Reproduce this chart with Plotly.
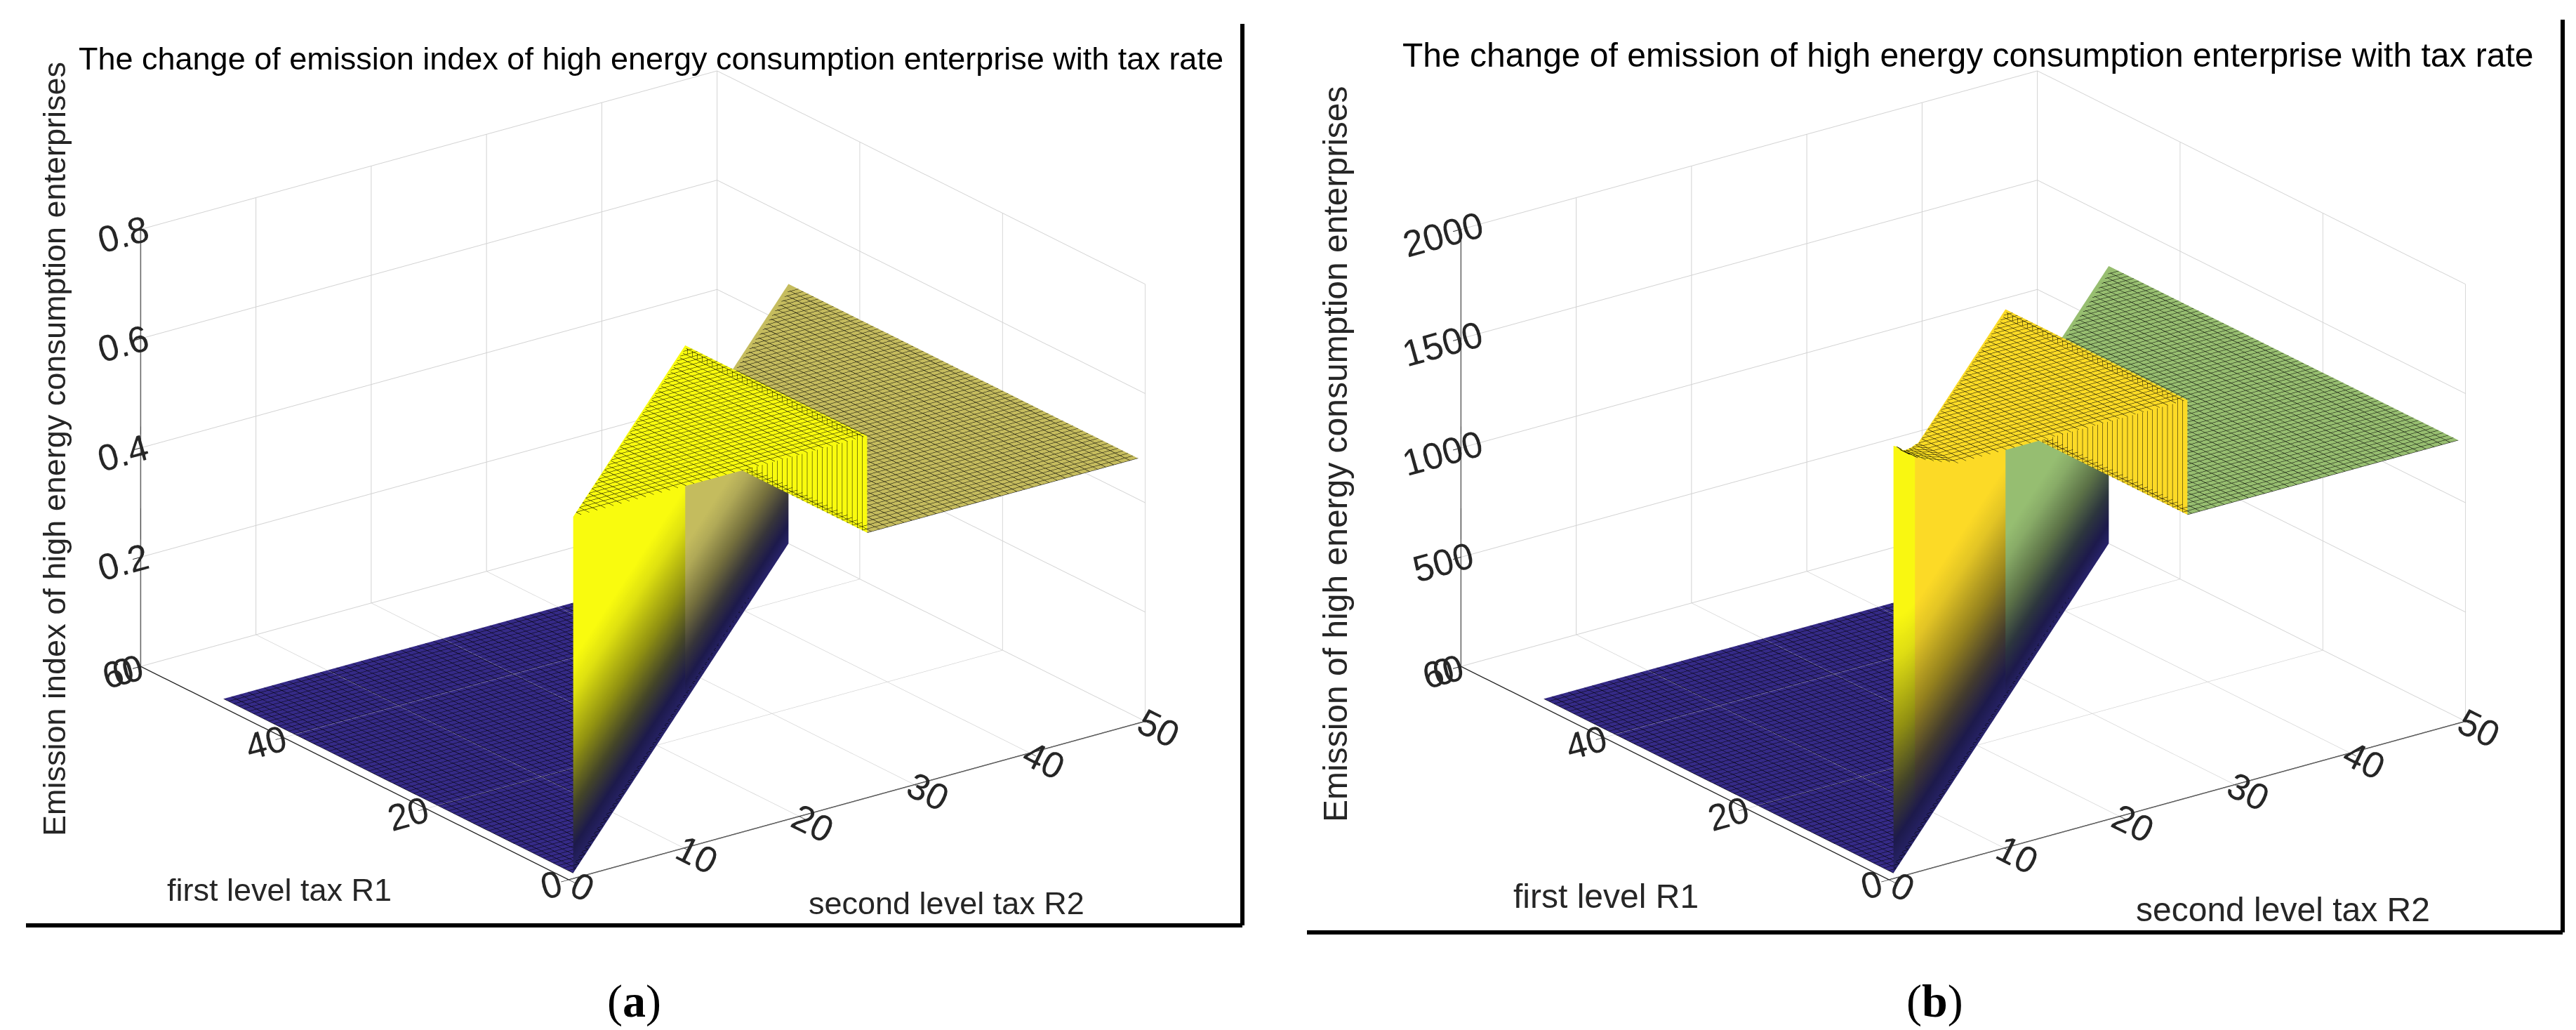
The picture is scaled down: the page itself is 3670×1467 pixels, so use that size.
import numpy as np
import plotly.graph_objects as go

W, H = 3670, 1467

# ---------------- data ----------------
step = 0.7                                            # mesh spacing of both tax axes
r_start, r_end = 1.0, 50.0                            # tax range covered by the surface
split_r2 = 26.5                                       # R2 where the ridge drops to the plateau

# panel (a): emission index levels
a_floor = 0.0        # region R1 > R2
a_ridge = 0.652      # region R1 <= R2 <= split
a_plateau = 0.475    # region R2 > split

# panel (b): emission levels
b_floor = 0.0
b_ridge = 1795
b_plateau = 1270
b_front_r2 = [1.0, 1.7, 2.4, 3.1, 3.8, 4.5, 5.2, 5.9]          # R2 of the raised front strip
b_front_z = [1955, 1930, 1895, 1870, 1850, 1835, 1820, 1810]  # its emission values

a_z_ticks = [0, 0.2, 0.4, 0.6, 0.8]
a_z_text = ["0", "0.2", "0.4", "0.6", "0.8"]
b_z_ticks = [0, 500, 1000, 1500, 2000]
b_z_text = ["0", "500", "1000", "1500", "2000"]
r1_ticks = [0, 20, 40, 60]
r2_ticks = [0, 10, 20, 30, 40, 50]

title_a = "The change of emission index of high energy consumption enterprise with tax rate"
title_b = "The change of emission of high energy consumption enterprise with tax rate"
ztitle_a = "Emission index of high energy consumption enterprises"
ztitle_b = "Emission of high energy consumption enterprises"

# ---------------- colours ----------------
parula_hex = ["#352a87", "#0f5cdd", "#1481d6", "#06a4ca", "#2eb7a4",
              "#87bf77", "#d1bb59", "#fec832", "#f9fb0e"]
parula = [[i / (len(parula_hex) - 1), c] for i, c in enumerate(parula_hex)]


def h2rgb(h):
    h = h.lstrip("#")
    return np.array([int(h[i:i + 2], 16) for i in (0, 2, 4)], dtype=float)


def rgb2h(c):
    c = np.clip(np.round(c), 0, 255).astype(int)
    return "#%02x%02x%02x" % tuple(c)


def parula_at(v):
    v = float(np.clip(v, 0, 1)) * (len(parula_hex) - 1)
    i = min(int(v), len(parula_hex) - 2)
    t = v - i
    return rgb2h(h2rgb(parula_hex[i]) * (1 - t) + h2rgb(parula_hex[i + 1]) * t)


def mix(c1, c2, t):
    return rgb2h(h2rgb(c1) * (1 - t) + h2rgb(c2) * t)


def wall_scale(top):
    return [[0.0, "#28236a"], [0.07, "#1d1a4c"], [0.18, mix(top, "#101030", 0.78)],
            [0.33, mix(top, "#141414", 0.45)], [0.5, mix(top, "#202020", 0.12)],
            [0.6, top], [1.0, top]]


flat = dict(ambient=1.0, diffuse=0.0, specular=0.0, fresnel=0.0, roughness=1.0)


def mesh_contours(xon=True, yon=True):
    return dict(
        x=dict(show=xon, start=r_start, end=r_end, size=step, color="black", width=2, highlight=False),
        y=dict(show=yon, start=r_start, end=r_end, size=step, color="black", width=2, highlight=False),
        z=dict(highlight=False),
    )


grid = np.round(np.arange(r_start, r_end + 1e-9, step), 3)
t = np.linspace(0, 1, 40)


def rows_between(lo, hi):
    g = grid[(grid > lo + 1e-9) & (grid < hi - 1e-9)]
    return np.concatenate([[lo], g, [hi]])


def panel_traces(scene, floor, ridge_fn, plateau, cmax):
    tr = []
    # floor: R1 >= R2
    r1 = rows_between(r_start, r_end)
    Y = np.repeat(r1[:, None], len(t), axis=1)
    X = r_start + t[None, :] * (Y - r_start)
    Z = np.full_like(X, floor)
    tr.append(go.Surface(x=X, y=Y, z=Z, surfacecolor=Z, colorscale=parula, cmin=0, cmax=cmax,
                         showscale=False, lighting=flat, contours=mesh_contours(),
                         hoverinfo="skip", scene=scene))
    # ridge: R1 <= R2 <= split
    r2 = rows_between(r_start, split_r2)
    X = np.repeat(r2[:, None], len(t), axis=1)
    Y = r_start + t[None, :] * (X - r_start)
    Z = np.array([[ridge_fn(v)] * len(t) for v in r2])
    tr.append(go.Surface(x=X, y=Y, z=Z, surfacecolor=Z, colorscale=parula, cmin=0, cmax=cmax,
                         showscale=False, lighting=flat, contours=mesh_contours(),
                         hoverinfo="skip", scene=scene))
    # plateau: R2 > split, R1 <= R2
    r2p = rows_between(split_r2, r_end)
    X = np.repeat(r2p[:, None], len(t), axis=1)
    Y = r_start + t[None, :] * (X - r_start)
    Z = np.full_like(X, plateau)
    tr.append(go.Surface(x=X, y=Y, z=Z, surfacecolor=Z, colorscale=parula, cmin=0, cmax=cmax,
                         showscale=False, lighting=flat, contours=mesh_contours(),
                         hoverinfo="skip", scene=scene))
    # fin: step at R2 = split between plateau and ridge
    r1f = rows_between(r_start, split_r2)
    s = np.linspace(0, 1, 2)
    Y = np.repeat(r1f[:, None], len(s), axis=1)
    X = np.full_like(Y, split_r2)
    Z = plateau + s[None, :] * (ridge_fn(split_r2) - plateau) * np.ones_like(Y)
    fc = parula_at(ridge_fn(split_r2) / cmax)
    tr.append(go.Surface(x=X, y=Y, z=Z, surfacecolor=np.ones_like(Z),
                         colorscale=[[0, fc], [1, fc]], cmin=0, cmax=1,
                         showscale=False, lighting=flat, contours=mesh_contours(False, True),
                         hoverinfo="skip", scene=scene))
    return tr


def wall_trace(scene, lo, hi, top_fn, top_col):
    R = rows_between(lo, hi)
    s = np.linspace(0, 1, 30)
    X = np.repeat(R[:, None], len(s), axis=1)
    Y = X.copy()
    Z = np.array([top_fn(v) * s for v in R])
    C = np.repeat(s[None, :], len(R), axis=0)
    return go.Surface(x=X, y=Y, z=Z, surfacecolor=C, colorscale=wall_scale(top_col),
                      cmin=0, cmax=1, showscale=False, lighting=flat,
                      hoverinfo="skip", scene=scene)


def ridge_a(v):
    return a_ridge


def ridge_b(v):
    for r, z in zip(b_front_r2, b_front_z):
        if abs(v - r) < 1e-6:
            return z
    return b_ridge


cmax_a = a_ridge
cmax_b = max(b_front_z)

fig = go.Figure()
for tr in panel_traces("scene", a_floor, ridge_a, a_plateau, cmax_a):
    fig.add_trace(tr)
fig.add_trace(wall_trace("scene", r_start, split_r2, ridge_a, parula_at(1.0)))
fig.add_trace(wall_trace("scene", split_r2, r_end, lambda v: a_plateau, parula_at(a_plateau / cmax_a)))

for tr in panel_traces("scene2", b_floor, ridge_b, b_plateau, cmax_b):
    fig.add_trace(tr)
fig.add_trace(wall_trace("scene2", r_start, b_front_r2[-1], ridge_b, parula_at(0.99)))
fig.add_trace(wall_trace("scene2", b_front_r2[-1], split_r2, ridge_b, parula_at(b_ridge / cmax_b)))
fig.add_trace(wall_trace("scene2", split_r2, r_end, lambda v: b_plateau, parula_at(b_plateau / cmax_b)))

tickfont = dict(family="Liberation Sans", size=25, color="#262626")


def axis(rng, vals, text=None):
    d = dict(range=rng, tickvals=vals, autorange=False,
             showbackground=False, gridcolor="#d2d2d2", gridwidth=2,
             zeroline=False, showline=True, linecolor="#262626", linewidth=3,
             ticks="outside", ticklen=14, tickcolor="#262626", tickwidth=2,
             tickfont=tickfont, showspikes=False, title=dict(text=""))
    if text is not None:
        d["ticktext"] = text
    return d


az = np.deg2rad(36.6)
el_s = 0.37
el_c = np.sqrt(1 - el_s ** 2)
dist = 1.27
eye = dict(x=float(-np.sin(az) * el_c * dist), y=float(-np.cos(az) * el_c * dist), z=float(el_s * dist))
camera = dict(eye=eye, up=dict(x=0, y=0, z=1), center=dict(x=0, y=0, z=0),
              projection=dict(type="orthographic"))
box_scale = 1.55


def scene(dom_x, zr, zt, ztx):
    return dict(domain=dict(x=dom_x, y=[0.094, 0.994]),
                xaxis=axis([0, 50], r2_ticks),
                yaxis=axis([0, 60], r1_ticks),
                zaxis=axis(zr, zt, ztx),
                aspectmode="manual",
                aspectratio=dict(x=box_scale, y=box_scale, z=0.655 * box_scale),
                camera=camera, bgcolor="white", dragmode=False)


fig.update_layout(
    width=W, height=H, paper_bgcolor="white", plot_bgcolor="white",
    margin=dict(l=0, r=0, t=0, b=0), showlegend=False,
    scene=scene([0.0073, 0.4873], [0, 0.8], a_z_ticks, a_z_text),
    scene2=scene([0.52, 1.0], [0, 2000], b_z_ticks, b_z_text),
)


def px(x, y):
    return x / W, 1 - y / H


def sans(size, color="black"):
    return dict(family="Liberation Sans", size=size, color=color)


annots = []
for (x, y, txt, f, ang) in [
    (920, 75, title_a, sans(45), 0),
    (2796, 70, title_b, sans(48), 0),
    (69, 632, ztitle_a, sans(45, "#262626"), -90),
    (1895, 639, ztitle_b, sans(48, "#262626"), -90),
    (390, 1259, "first level tax R1", sans(45, "#262626"), 0),
    (1340, 1278, "second level tax R2", sans(45, "#262626"), 0),
    (2280, 1268, "first level R1", sans(48, "#262626"), 0),
    (3244, 1287, "second level tax R2", sans(48, "#262626"), 0),
]:
    ax_, ay_ = px(x, y)
    annots.append(dict(x=ax_, y=ay_, xref="paper", yref="paper", text=txt, showarrow=False,
                       font=f, textangle=ang, xanchor="center", yanchor="middle"))

serif = dict(family="Liberation Serif", size=66, color="black")
for (x, y, txt) in [(895, 1418, "(<b>a</b>)"), (2748, 1418, "(<b>b</b>)")]:
    ax_, ay_ = px(x, y)
    annots.append(dict(x=ax_, y=ay_, xref="paper", yref="paper", text=txt, showarrow=False,
                       font=serif, xanchor="center", yanchor="middle"))

shapes = []
for (x0, y0, x1, y1) in [
    (29, 1310, 1762, 1310), (1762, 26, 1762, 1310),
    (1854, 1320, 3643, 1320), (3643, 20, 3643, 1320),
]:
    a0, b0 = px(x0, y0)
    a1, b1 = px(x1, y1)
    shapes.append(dict(type="line", xref="paper", yref="paper", x0=a0, y0=b0, x1=a1, y1=b1,
                       line=dict(color="black", width=6)))

fig.update_layout(annotations=annots, shapes=shapes)
fig.write_html("out.html")
